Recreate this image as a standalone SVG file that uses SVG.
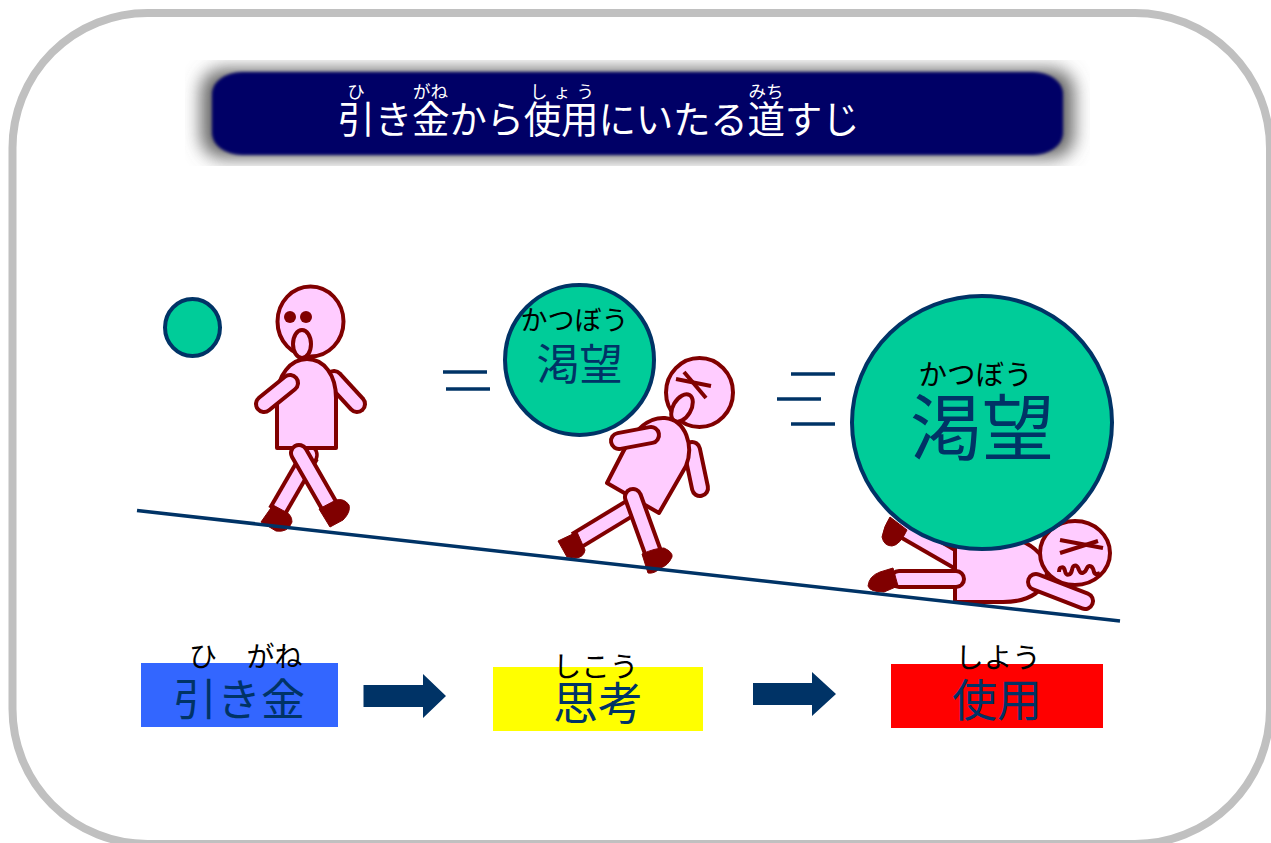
<svg xmlns="http://www.w3.org/2000/svg" width="1271" height="843" viewBox="0 0 1271 843">
  <style>
    text { font-family: "Noto Sans CJK JP", "Noto Sans", sans-serif; text-anchor: middle; }
    .skin { fill: #FFCCFF; stroke: #800000; stroke-width: 4; stroke-linejoin: round; }
    .limb-o { fill: none; stroke: #800000; stroke-width: 20; stroke-linecap: round; }
    .limb-i { fill: none; stroke: #FFCCFF; stroke-width: 12; stroke-linecap: round; }
    .leg-o { fill: none; stroke: #800000; stroke-width: 20; }
    .leg-i { fill: none; stroke: #FFCCFF; stroke-width: 12; }
    .shoe { fill: #800000; stroke: #800000; stroke-width: 1; stroke-linejoin: round; }
    .ink { fill: none; stroke: #800000; stroke-width: 4; }
    .ball { fill: #00CC99; stroke: #003366; stroke-width: 4; }
    .dash { stroke: #003366; stroke-width: 3.5; }
    .navy { fill: #003366; }
    .ruby { fill: #000000; font-weight: 400; }
    .kanji { fill: #003366; font-weight: 400; }
    .head-ruby { fill: #FFFFFF; font-size: 17.500px; }
  </style>
  <defs>
    <filter id="soft" filterUnits="userSpaceOnUse" x="185" y="60" width="905" height="106">
      <feGaussianBlur stdDeviation="9"/>
    </filter>
    <filter id="edge" x="-2%" y="-5%" width="104%" height="110%">
      <feGaussianBlur stdDeviation="1.500"/>
    </filter>
  </defs>

  <rect width="1271" height="843" fill="#FFFFFF"/>
  <rect id="frame" x="12.500" y="13" width="1257.500" height="831" rx="135" fill="#FFFFFF" stroke="#C0C0C0" stroke-width="8"/>

  <g id="title">
    <rect x="201" y="69" width="873" height="89" rx="22" fill="#666666" filter="url(#soft)"/>
    <rect x="212" y="72" width="851" height="83" rx="30" ry="22" fill="#000066" filter="url(#edge)"/>
    <text x="598.500" y="133" fill="#FFFFFF" font-size="37.500" textLength="522" lengthAdjust="spacing">引き金から使用にいたる道すじ</text>
    <text class="head-ruby" x="356" y="98">ひ</text>
    <text class="head-ruby" x="430.500" y="98">がね</text>
    <text class="head-ruby" x="562" y="98" textLength="64">しょう</text>
    <text class="head-ruby" x="766" y="98">みち</text>
  </g>

  <g id="trigger-ball"><ellipse class="ball" cx="192.500" cy="327.500" rx="27.500" ry="28.500"/></g>

  <g id="walker">
    <line class="leg-o" x1="310" y1="455" x2="277" y2="512"/>
    <line class="leg-i" x1="310" y1="455" x2="277" y2="512"/>
    <circle cx="307" cy="455" r="10" fill="#FFCCFF" stroke="#800000" stroke-width="3.500"/>
    <ellipse class="skin" cx="310.500" cy="321.500" rx="33" ry="35"/>
    <circle cx="290" cy="317" r="6" fill="#800000"/>
    <circle cx="306" cy="317" r="6" fill="#800000"/>
    <ellipse class="skin" cx="302" cy="344" rx="9" ry="14"/>
    <line class="limb-o" x1="334" y1="379" x2="357" y2="404"/>
    <line class="limb-i" x1="334" y1="379" x2="357" y2="404"/>
    <path class="skin" d="M277,448 H336 V398 C336,375 324,359 307,359 C291,359 277,375 277,398 Z"/>
    <line class="limb-o" x1="290" y1="383" x2="264" y2="404"/>
    <line class="limb-i" x1="290" y1="383" x2="264" y2="404"/>
    <line class="limb-o" x1="299" y1="453" x2="330" y2="507"/>
    <line class="limb-i" x1="299" y1="453" x2="330" y2="507"/>
    <path class="shoe" d="M273,505 L261,522 L276,531 Q288,533 292,522 Q292,514 284,511 Z"/>
    <path class="shoe" d="M319,509 L330,527 L343,520 Q351,512 349,505 Q344,498 336,500 Z"/>
  </g>

  <g id="craving-ball">
    <ellipse class="ball" cx="579.500" cy="360" rx="74.500" ry="75"/>
    <text class="ruby" x="574.500" y="330" font-size="27">かつぼう</text>
    <text class="kanji" x="579.500" y="380" font-size="43">渇望</text>
  </g>

  <g id="stumbler">
    <ellipse class="skin" cx="699.500" cy="392.500" rx="33.500" ry="34.500"/>
    <line class="ink" x1="676" y1="379" x2="711" y2="386"/>
    <line class="ink" x1="684" y1="372" x2="706" y2="398"/>
    <ellipse class="skin" cx="682" cy="408" rx="9" ry="15" transform="rotate(30 682 408)"/>
    <line class="limb-o" x1="692" y1="450" x2="700" y2="488"/>
    <line class="limb-i" x1="692" y1="450" x2="700" y2="488"/>
    <line class="leg-o" x1="632" y1="507" x2="576" y2="541"/>
    <line class="leg-i" x1="632" y1="507" x2="576" y2="541"/>
    <path class="skin" d="M607,483 L659,513 L686,466 C694,446 686,420 665,418 C650,417 635,428 623,452 Z"/>
    <line class="limb-o" x1="619" y1="441" x2="651" y2="435"/>
    <line class="limb-i" x1="619" y1="441" x2="651" y2="435"/>
    <line class="limb-o" x1="633" y1="497" x2="655" y2="558"/>
    <line class="limb-i" x1="633" y1="497" x2="655" y2="558"/>
    <path class="shoe" d="M558,541 L577,532 L585,550 Q584,557 576,558 L567,557 Z"/>
    <path class="shoe" d="M642,554 Q655,548 664,548 Q673,552 672,557 Q668,566 660,568 Q655,574 648,573 Z"/>
  </g>

  <g id="collapsed">
    <line class="leg-o" x1="958" y1="561" x2="899" y2="527"/>
    <line class="leg-i" x1="958" y1="561" x2="899" y2="527"/>
    <path class="shoe" d="M890,517 Q884,526 882,537 Q884,546 892,546 Q900,545 907,530 Z"/>
    <path class="skin" d="M955,602 V535 H1000 C1030,540 1047,555 1047,572 C1047,590 1030,602 1003,602 Z"/>
    <ellipse class="skin" cx="1075" cy="553" rx="35" ry="32"/>
    <line class="ink" x1="1060" y1="540" x2="1103" y2="548"/>
    <line class="ink" x1="1060" y1="553" x2="1098" y2="541"/>
    <path class="ink" d="M1059,572 C1059,566 1064,566 1065,571 C1066,577 1071,575 1072,570 C1073,564 1077,564 1079,570 C1081,575 1085,573 1087,568 C1089,564 1093,566 1094,572 C1095,575 1098,574 1100,573"/>
    <line class="limb-o" x1="1036" y1="582" x2="1085" y2="601"/>
    <line class="limb-i" x1="1036" y1="582" x2="1085" y2="601"/>
    <line class="limb-o" x1="956" y1="579" x2="899" y2="579"/>
    <line class="limb-i" x1="956" y1="579" x2="899" y2="579"/>
    <path class="shoe" d="M868,586 Q869,576 880,572 L893,568 L898,586 L884,592 Q870,592 868,586 Z"/>
  </g>

  <g id="connectors">
    <line x1="137" y1="510.500" x2="1120" y2="621" stroke="#003366" stroke-width="3.500"/>
    <line class="dash" x1="443" y1="372" x2="487" y2="372"/>
    <line class="dash" x1="446" y1="389" x2="490" y2="389"/>
    <line class="dash" x1="791" y1="374" x2="835" y2="374"/>
    <line class="dash" x1="777" y1="399" x2="821" y2="399"/>
    <line class="dash" x1="791" y1="424" x2="835" y2="424"/>
    <path class="navy" d="M363.500,685 H423 V674 L446,696 L423,718 V707 H363.500 Z"/>
    <path class="navy" d="M753,683 H812 V672 L836,694 L812,716 V705 H753 Z"/>
  </g>

  <g id="desire-ball">
    <ellipse class="ball" cx="982" cy="422.500" rx="130" ry="126.500"/>
    <text class="ruby" x="975.500" y="385" font-size="28.500">かつぼう</text>
    <text class="kanji" x="982" y="454" font-size="72">渇望</text>
  </g>

  <g id="step-trigger">
    <rect x="141" y="663" width="197" height="64" fill="#3366FF"/>
    <text class="kanji" x="239" y="716" font-size="44">引き金</text>
    <text class="ruby" x="203" y="667" font-size="28">ひ</text>
    <text class="ruby" x="274.500" y="667" font-size="28">がね</text>
  </g>
  <g id="step-thought">
    <rect x="493" y="667" width="210" height="64" fill="#FFFF00"/>
    <text class="kanji" x="598" y="720" font-size="45">思考</text>
    <text class="ruby" x="595.500" y="677" font-size="28.500">しこう</text>
  </g>
  <g id="step-use">
    <rect x="891" y="664" width="212" height="64" fill="#FF0000"/>
    <text class="kanji" x="997" y="717" font-size="45">使用</text>
    <text class="ruby" x="998" y="668" font-size="28.500">しよう</text>
  </g>
</svg>
